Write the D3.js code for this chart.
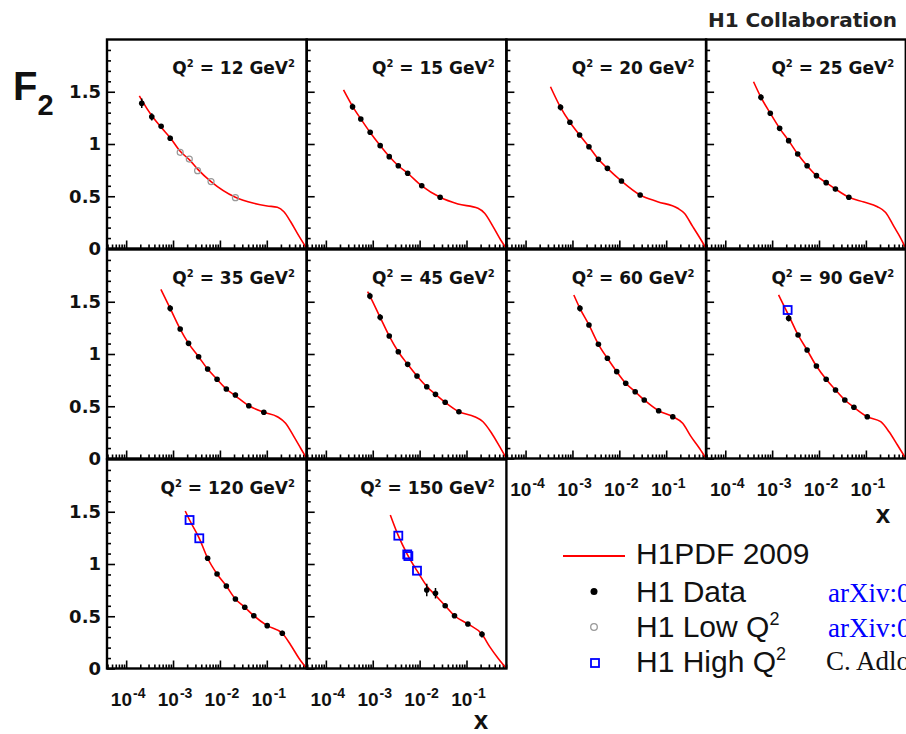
<!DOCTYPE html>
<html><head><meta charset="utf-8">
<script src="https://cdn.jsdelivr.net/npm/d3@7"></script>
<style>body{margin:0;background:#fff}</style>
</head><body><svg id="c" width="906" height="734"></svg>
<script>
// ---------------- data ----------------
const q2Values = ["12","15","20","25","35","45","60","90","120","150"];
const xDomain = [3.9e-5, 0.71];
const yDomain = [0, 2];
const yMajorTicks = [0, 0.5, 1, 1.5];
const yTickLabels = ["0", "0.5", "1", "1.5"];
const xMajorTicks = [1e-4, 1e-3, 1e-2, 1e-1];
const xTickExponents = ["-4", "-3", "-2", "-1"];

// H1PDF 2009 curves [x, F2]
const curve12 = [[1.91e-4,1.46],[2.15e-4,1.42],[3.52e-4,1.27],[5.57e-4,1.16],[8.69e-4,1.06],[1.42e-3,0.93],[2.22e-3,0.85],[3.34e-3,0.76],[6.46e-3,0.64],[2.14e-2,0.49],[5.28e-2,0.433],[0.102,0.407],[0.168,0.394],[0.232,0.352],[0.323,0.256],[0.449,0.145],[0.71,0]];
const curve15 = [[2.38e-4,1.517],[3.71e-4,1.36],[5.56e-4,1.24],[8.81e-4,1.11],[1.44e-3,0.985],[2.25e-3,0.88],[3.51e-3,0.792],[5.56e-3,0.72],[1.11e-2,0.60],[2.74e-2,0.49],[6.56e-2,0.426],[0.176,0.385],[0.244,0.337],[0.369,0.209],[0.537,0.081],[0.71,0]];
const curve20 = [[3.40e-4,1.548],[5.57e-4,1.351],[8.83e-4,1.208],[1.42e-3,1.086],[2.25e-3,0.974],[3.58e-3,0.854],[5.57e-3,0.767],[1.11e-2,0.646],[2.78e-2,0.512],[6.56e-2,0.448],[0.176,0.385],[0.244,0.337],[0.369,0.209],[0.556,0.081],[0.71,0]];
const curve25 = [[4.01e-4,1.596],[5.77e-4,1.447],[9.12e-4,1.294],[1.445e-3,1.15],[2.25e-3,1.032],[3.51e-3,0.904],[5.57e-3,0.792],[8.81e-3,0.697],[1.42e-2,0.63],[2.24e-2,0.569],[4.33e-2,0.49],[9.08e-2,0.445],[0.176,0.40],[0.264,0.345],[0.398,0.209],[0.555,0.098],[0.71,0]];
const curve35 = [[5.50e-4,1.619],[8.69e-4,1.437],[1.42e-3,1.239],[2.14e-3,1.102],[3.51e-3,0.974],[5.47e-3,0.856],[8.69e-3,0.758],[1.37e-2,0.665],[2.14e-2,0.60],[4.13e-2,0.505],[8.65e-2,0.442],[0.168,0.40],[0.252,0.337],[0.379,0.209],[0.528,0.098],[0.71,0]];
const curve45 = [[7.76e-4,1.596],[8.69e-4,1.555],[1.44e-3,1.351],[2.25e-3,1.172],[3.51e-3,1.022],[5.56e-3,0.901],[8.79e-3,0.789],[1.42e-2,0.687],[2.18e-2,0.614],[3.51e-2,0.538],[6.89e-2,0.448],[0.149,0.40],[0.225,0.352],[0.339,0.247],[0.511,0.113],[0.71,0]];
const curve60 = [[1.07e-3,1.565],[1.445e-3,1.437],[2.25e-3,1.278],[3.58e-3,1.093],[5.57e-3,0.959],[8.81e-3,0.831],[1.37e-2,0.72],[2.18e-2,0.639],[3.40e-2,0.56],[6.90e-2,0.457],[0.138,0.40],[0.225,0.337],[0.339,0.209],[0.511,0.098],[0.71,0]];
const curve90 = [[1.37e-3,1.565],[2.25e-3,1.37],[3.57e-3,1.182],[5.57e-3,1.038],[8.79e-3,0.885],[1.42e-2,0.758],[2.25e-2,0.656],[3.55e-2,0.56],[5.55e-2,0.49],[0.107,0.40],[0.207,0.352],[0.312,0.256],[0.471,0.129],[0.71,0]];
const curve120 = [[1.82e-3,1.507],[2.25e-3,1.421],[3.63e-3,1.246],[5.47e-3,1.055],[8.69e-3,0.904],[1.37e-2,0.789],[2.14e-2,0.665],[3.39e-2,0.586],[5.28e-2,0.505],[0.102,0.41],[0.214,0.337],[0.323,0.225],[0.485,0.098],[0.71,0]];
const curve150 = [[2.37e-3,1.469],[3.51e-3,1.271],[5.56e-3,1.086],[8.79e-3,0.936],[1.42e-2,0.79],[2.18e-2,0.70],[3.51e-2,0.601],[5.55e-2,0.505],[0.107,0.426],[0.214,0.327],[0.312,0.209],[0.471,0.098],[0.71,0]];

// H1 Data [x, F2, err]
const data12 = [[2.15e-4,1.39,0.045],[3.52e-4,1.26,0.035],[5.57e-4,1.17,0.02],[8.69e-4,1.055,0.025]];
const data15 = [[3.71e-4,1.357,0.03],[5.56e-4,1.239,0.02],[8.81e-4,1.112,0.02],[1.44e-3,0.984,0.02],[2.25e-3,0.879,0.02],[3.51e-3,0.792,0.02],[5.56e-3,0.72,0.02],[1.11e-2,0.601,0.02],[2.74e-2,0.49,0.02]];
const data20 = [[5.57e-4,1.351,0.03],[8.83e-4,1.208,0.02],[1.42e-3,1.086,0.02],[2.25e-3,0.974,0.02],[3.58e-3,0.854,0.02],[5.57e-3,0.767,0.02],[1.11e-2,0.646,0.02],[2.78e-2,0.512,0.02]];
const data25 = [[5.77e-4,1.447,0.03],[9.12e-4,1.294,0.02],[1.445e-3,1.15,0.02],[2.25e-3,1.032,0.02],[3.51e-3,0.904,0.02],[5.57e-3,0.792,0.02],[8.81e-3,0.697,0.02],[1.42e-2,0.63,0.02],[2.24e-2,0.569,0.02],[4.33e-2,0.49,0.02]];
const data35 = [[8.69e-4,1.437,0.03],[1.42e-3,1.239,0.02],[2.14e-3,1.102,0.02],[3.51e-3,0.974,0.02],[5.47e-3,0.856,0.02],[8.69e-3,0.758,0.02],[1.37e-2,0.665,0.02],[2.14e-2,0.608,0.02],[4.13e-2,0.505,0.02],[8.65e-2,0.442,0.02]];
const data45 = [[8.69e-4,1.555,0.03],[1.44e-3,1.351,0.03],[2.25e-3,1.172,0.02],[3.51e-3,1.022,0.02],[5.56e-3,0.901,0.02],[8.79e-3,0.789,0.02],[1.42e-2,0.687,0.02],[2.18e-2,0.614,0.02],[3.51e-2,0.538,0.02],[6.89e-2,0.448,0.02]];
const data60 = [[1.445e-3,1.437,0.03],[2.25e-3,1.278,0.02],[3.58e-3,1.093,0.02],[5.57e-3,0.959,0.02],[8.81e-3,0.831,0.02],[1.37e-2,0.72,0.02],[2.18e-2,0.639,0.02],[3.40e-2,0.56,0.02],[6.90e-2,0.457,0.02],[0.138,0.40,0.02]];
const data90 = [[2.25e-3,1.342,0.03],[3.57e-3,1.182,0.02],[5.57e-3,1.038,0.02],[8.79e-3,0.885,0.02],[1.42e-2,0.758,0.02],[2.25e-2,0.656,0.02],[3.55e-2,0.56,0.02],[5.55e-2,0.49,0.02],[0.107,0.40,0.02]];
const data120 = [[5.47e-3,1.055,0.02],[8.69e-3,0.904,0.02],[1.37e-2,0.789,0.02],[2.14e-2,0.665,0.02],[3.39e-2,0.586,0.02],[5.28e-2,0.505,0.02],[0.102,0.41,0.02],[0.214,0.337,0.025]];
const data150 = [[1.42e-2,0.751,0.06],[2.18e-2,0.72,0.05],[3.51e-2,0.601,0.02],[5.55e-2,0.505,0.02],[0.107,0.426,0.02],[0.214,0.327,0.03]];

// H1 Low Q2 [x, F2]
const lowQ2_12 = [[1.42e-3,0.92],[2.22e-3,0.856],[3.34e-3,0.745],[6.46e-3,0.64],[2.14e-2,0.486]];
// H1 High Q2 [x, F2]
const highQ2_90 = [[2.14e-3,1.421]];
const highQ2_120 = [[2.25e-3,1.421],[3.63e-3,1.246]];
const highQ2_150 = [[3.51e-3,1.271],[5.45e-3,1.092],[5.75e-3,1.076],[8.79e-3,0.936]];

const legendLabels = ["H1PDF 2009", "H1 Data", "H1 Low Q", "H1 High Q"];
const refTexts = ["arXiv:0904.0929 [hep-ex]", "arXiv:0904.3513 [hep-ex]", "C. Adloff et al., Eur. Phys. J. C30 (2003) 1"];

const curves = [curve12,curve15,curve20,curve25,curve35,curve45,curve60,curve90,curve120,curve150];
const datas = [data12,data15,data20,data25,data35,data45,data60,data90,data120,data150];
const lows = [lowQ2_12,[],[],[],[],[],[],[],[],[]];
const highs = [[],[],[],[],[],[],[],highQ2_90,highQ2_120,highQ2_150];

// ---------------- layout ----------------
const colL0 = 107, colW = 199.7, rowT0 = 39.5, rowPitch = 210, panelH = 209;
const RED = "#ff0000", BLUE = "#0000ff";
const BOLD_ROOT = "'DejaVu Sans', sans-serif";
const HELV = "'Liberation Sans', Arial, sans-serif";
const SERIF = "'Liberation Serif', 'Times New Roman', serif";

const svg = d3.select("#c");
svg.append("rect").attr("width", 906).attr("height", 734).attr("fill", "#fff");
const defs = svg.append("defs");

const xMinor = [];
for (let e = -5; e <= -1; e++) for (let k = 2; k <= 9; k++) {
  const v = k * Math.pow(10, e);
  if (v > xDomain[0] && v < xDomain[1]) xMinor.push(v);
}
const yMinor = d3.range(1, 20).map(i => i / 10).filter(v => yMajorTicks.indexOf(v) < 0);

function styleAxis(g) {
  g.select(".domain").remove();
  g.selectAll(".tick line").attr("stroke", "#000").attr("stroke-width", 1.6);
}

q2Values.forEach((q2, i) => {
  const col = i % 4, row = Math.floor(i / 4);
  const L = colL0 + colW * col, T = rowT0 + rowPitch * row, B = T + panelH;
  const x = d3.scaleLog().domain(xDomain).range([L, L + colW]);
  const y = d3.scaleLinear().domain(yDomain).range([B, T]);
  const g = svg.append("g");

  defs.append("clipPath").attr("id", "clip" + i)
    .append("rect").attr("x", L).attr("y", T).attr("width", colW).attr("height", panelH);

  // axes ticks (inward)
  g.append("g").attr("transform", `translate(0,${B})`)
    .call(d3.axisBottom(x).tickValues(xMajorTicks).tickSize(-8).tickFormat("")).call(styleAxis);
  g.append("g").attr("transform", `translate(0,${B})`)
    .call(d3.axisBottom(x).tickValues(xMinor).tickSize(-4).tickFormat("")).call(styleAxis);
  g.append("g").attr("transform", `translate(${L},0)`)
    .call(d3.axisLeft(y).tickValues(yMajorTicks).tickSize(-8).tickFormat("")).call(styleAxis);
  g.append("g").attr("transform", `translate(${L},0)`)
    .call(d3.axisLeft(y).tickValues(yMinor).tickSize(-4).tickFormat("")).call(styleAxis);

  const inner = g.append("g").attr("clip-path", `url(#clip${i})`);
  // theory curve
  const line = d3.line().x(d => x(d[0])).y(d => y(d[1])).curve(d3.curveMonotoneX);
  inner.append("path").datum(curves[i]).attr("d", line)
    .attr("fill", "none").attr("stroke", RED).attr("stroke-width", 1.6);

  // H1 data error bars + dots
  inner.selectAll(".eb").data(datas[i]).enter().append("line")
    .attr("x1", d => x(d[0])).attr("x2", d => x(d[0]))
    .attr("y1", d => y(d[1] - d[2])).attr("y2", d => y(d[1] + d[2]))
    .attr("stroke", "#000").attr("stroke-width", 1.5);
  inner.selectAll(".dot").data(datas[i]).enter().append("circle")
    .attr("cx", d => x(d[0])).attr("cy", d => y(d[1])).attr("r", 2.8).attr("fill", "#000");

  // low Q2 open circles
  inner.selectAll(".low").data(lows[i]).enter().append("circle")
    .attr("cx", d => x(d[0])).attr("cy", d => y(d[1])).attr("r", 3)
    .attr("fill", "none").attr("stroke", "#999").attr("stroke-width", 1.2);

  // high Q2 open squares
  inner.selectAll(".high").data(highs[i]).enter().append("rect")
    .attr("x", d => x(d[0]) - 4).attr("y", d => y(d[1]) - 4).attr("width", 8).attr("height", 8)
    .attr("fill", "none").attr("stroke", BLUE).attr("stroke-width", 1.8);

  // frame
  g.append("rect").attr("x", L).attr("y", T).attr("width", colW).attr("height", panelH)
    .attr("fill", "none").attr("stroke", "#000").attr("stroke-width", 2.4);

  // Q2 label
  const t = g.append("text").attr("x", L + 188).attr("y", T + 34)
    .attr("text-anchor", "end").attr("font-family", BOLD_ROOT).attr("font-weight", "bold")
    .attr("font-size", 17).attr("fill", "#111");
  t.append("tspan").text("Q");
  t.append("tspan").attr("dy", -7).attr("font-size", 10).text("2");
  t.append("tspan").attr("dy", 7).text(" = " + q2 + " GeV");
  t.append("tspan").attr("dy", -7).attr("font-size", 10).text("2");

  // y tick labels (first column)
  if (col === 0) {
    g.selectAll(".yl").data(yMajorTicks).enter().append("text")
      .attr("x", L - 6).attr("y", d => y(d)).attr("dy", "0.36em")
      .attr("text-anchor", "end").attr("font-family", BOLD_ROOT).attr("font-weight", "bold")
      .attr("font-size", 18).attr("fill", "#111")
      .text((d, k) => yTickLabels[k]);
  }
  // x tick labels where no panel below
  if (i + 4 >= q2Values.length) {
    xMajorTicks.forEach((v, k) => {
      const lt = g.append("text").attr("x", x(v) + 2).attr("y", B + 37)
        .attr("text-anchor", "middle").attr("font-family", HELV).attr("font-weight", "bold")
        .attr("font-size", 19).attr("fill", "#111");
      lt.append("tspan").text("10");
      lt.append("tspan").attr("dy", -8).attr("dx", 1).attr("font-size", 14).text(xTickExponents[k]);
    });
  }
});

// axis titles
svg.append("text").attr("x", 883).attr("y", 523).attr("text-anchor", "middle")
  .attr("font-family", HELV).attr("font-weight", "bold").attr("font-size", 26).attr("fill", "#111").text("x");
svg.append("text").attr("x", 481).attr("y", 729).attr("text-anchor", "middle")
  .attr("font-family", HELV).attr("font-weight", "bold").attr("font-size", 26).attr("fill", "#111").text("x");
const f2 = svg.append("text").attr("x", 13).attr("y", 100)
  .attr("font-family", HELV).attr("font-weight", "bold").attr("font-size", 40).attr("fill", "#111");
f2.append("tspan").text("F");
f2.append("tspan").attr("dy", 15).attr("font-size", 29).text("2");

// title
svg.append("text").attr("x", 708).attr("y", 27).attr("font-family", BOLD_ROOT).attr("font-weight", "bold")
  .attr("font-size", 20).attr("fill", "#222").text("H1 Collaboration");

// legend
const lg = svg.append("g");
const rowsY = [564, 601.5, 637, 672];
lg.append("line").attr("x1", 563).attr("x2", 625).attr("y1", 556).attr("y2", 556)
  .attr("stroke", RED).attr("stroke-width", 2);
lg.append("circle").attr("cx", 594).attr("cy", 591.5).attr("r", 3.5).attr("fill", "#000");
lg.append("circle").attr("cx", 594).attr("cy", 627).attr("r", 3.3).attr("fill", "none")
  .attr("stroke", "#999").attr("stroke-width", 1.3);
lg.append("rect").attr("x", 591).attr("y", 659).attr("width", 8).attr("height", 8)
  .attr("fill", "none").attr("stroke", BLUE).attr("stroke-width", 1.8);
legendLabels.forEach((lab, k) => {
  const tt = lg.append("text").attr("x", 636).attr("y", rowsY[k])
    .attr("font-family", HELV).attr("font-size", 30).attr("fill", "#111");
  tt.append("tspan").text(lab);
  if (k >= 2) tt.append("tspan").attr("dy", -12).attr("font-size", 18).text("2");
});
refTexts.forEach((r, k) => {
  lg.append("text").attr("x", k < 2 ? 828 : 826).attr("y", rowsY[k + 1] - (k === 2 ? 2 : 0))
    .attr("font-family", SERIF).attr("font-size", 27)
    .attr("fill", k < 2 ? BLUE : "#111").text(r);
});
</script></body></html>
